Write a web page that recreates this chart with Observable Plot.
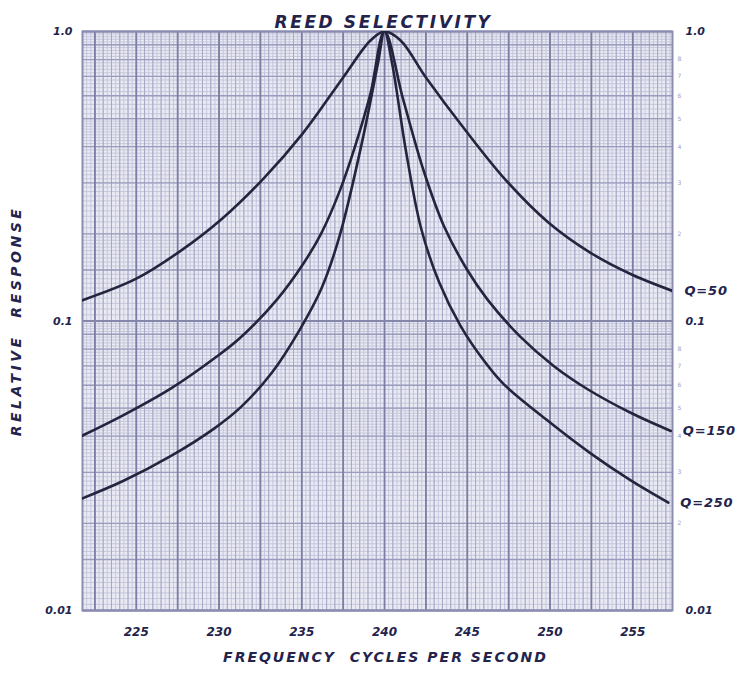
<!DOCTYPE html>
<html>
<head>
<meta charset="utf-8">
<script src="https://cdn.jsdelivr.net/npm/d3@7"></script>
<script src="https://cdn.jsdelivr.net/npm/@observablehq/plot@0.6"></script>
<style>
  html, body { margin: 0; padding: 0; background: #ffffff; }
</style>
</head>
<body>
<div id="chart"></div>
<script>
// ---- data ----
const q50Freq = [221.75, 225.0, 227.7, 230.2, 232.7, 235.05, 237.5, 239.15, 240, 240.97, 242.5, 244.9, 247.3, 249.9, 252.45, 254.9, 257.4];
const q50Resp = [0.118, 0.140, 0.175, 0.226, 0.311, 0.444, 0.694, 0.931, 1.0, 0.931, 0.694, 0.455, 0.308, 0.219, 0.172, 0.145, 0.127];

const q150Freq = [221.75, 224.2, 227.1, 229.7, 231.3, 233.5, 235.1, 236.2, 237.3, 238.2, 239.15, 240, 241.1, 242.36, 243.6, 245.0, 246.2, 248.2, 250.2, 252.3, 254.9, 257.3];
const q150Resp = [0.0402, 0.0472, 0.0585, 0.0742, 0.0877, 0.1186, 0.158, 0.202, 0.282, 0.398, 0.61, 1.0, 0.59, 0.331, 0.212, 0.150, 0.119, 0.0883, 0.0701, 0.058, 0.0481, 0.0417];

const q250Freq = [221.75, 224.2, 227.1, 229.7, 231.3, 233.2, 234.9, 236.2, 237.3, 238.7, 239.6, 240, 240.45, 241.3, 242.2, 243.3, 244.6, 246.0, 247.2, 249.85, 252.45, 254.9, 257.15];
const q250Resp = [0.0244, 0.0280, 0.0342, 0.0425, 0.0503, 0.0664, 0.0938, 0.130, 0.198, 0.43, 0.775, 1.0, 0.78, 0.385, 0.21, 0.136, 0.096, 0.073, 0.0605, 0.0453, 0.0349, 0.0281, 0.0236];

const seriesNames = ["Q=50", "Q=150", "Q=250"];
const xTickValues = [225, 230, 235, 240, 245, 250, 255];
const yTickValues = [0.01, 0.1, 1];
const yTickLabels = ["0.01", "0.1", "1.0"];
const titleText = "REED SELECTIVITY";
const xTitle = "FREQUENCY  CYCLES PER SECOND";
const yTitle = "RELATIVE  RESPONSE";

// ---- build table ----
const series = [[q50Freq, q50Resp], [q150Freq, q150Resp], [q250Freq, q250Resp]];
const data = series.flatMap(([f, r], i) => f.map((fv, j) => ({q: seriesNames[i], f: fv, r: r[j]})));
const ends = series.map(([f, r], i) => ({q: seriesNames[i], f: f[f.length - 1], r: r[r.length - 1]}));

// graph-paper grid positions
const xDomain = [221.75, 257.4];
const fineX = d3.range(222, 257.4, 0.25);
const minorX = d3.range(222.5, 257.4, 0.5);
const majorX = d3.range(222.5, 257.4, 2.5);
const fineY = [], majorY = [];
for (const dec of [0.01, 0.1]) {
  for (let m = 1; m < 2; m += 0.05) fineY.push(m * dec);
  for (let m = 2; m < 5; m += 0.1) fineY.push(m * dec);
  for (let m = 5; m < 10; m += 0.2) fineY.push(m * dec);
  for (const m of [1, 1.5, 2, 3, 4, 5, 6, 7, 8, 9]) majorY.push(m * dec);
}
const smallRight = [];
for (const dec of [0.01, 0.1]) for (const m of [2, 3, 4, 5, 6, 7, 8, 9]) smallRight.push(m * dec);

const ink = "#23234c";
const font = "DejaVu Sans";
const yLabelMap = new Map(yTickValues.map((v, i) => [v, yTickLabels[i]]));

const chart = Plot.plot({
  width: 738,
  height: 682,
  marginTop: 31,
  marginBottom: 72,
  marginLeft: 82,
  marginRight: 66,
  x: {domain: xDomain},
  y: {type: "log", domain: [0.01, 1]},
  style: {background: "#ffffff", fontFamily: font, color: ink},
  marks: [
    Plot.frame({fill: "#e9eaf3", stroke: null}),
    Plot.ruleX(fineX, {stroke: "#bfc0d7", strokeWidth: 0.8}),
    Plot.ruleY(fineY, {stroke: "#bfc0d7", strokeWidth: 0.8}),
    Plot.ruleX(minorX, {stroke: "#a6a8c6", strokeWidth: 1}),
    Plot.ruleY(majorY, {stroke: "#9a9cbd", strokeWidth: 1.3}),
    Plot.ruleX(majorX, {stroke: "#7c7ea3", strokeWidth: 1.8}),
    Plot.ruleY(yTickValues, {stroke: "#8486aa", strokeWidth: 2}),
    Plot.frame({stroke: "#8a8cb2", strokeWidth: 2}),
    Plot.line(data, {x: "f", y: "r", z: "q", curve: "catmull-rom", clip: true, stroke: "#24243e", strokeWidth: 2.6}),
    Plot.axisX(xTickValues, {tickSize: 0, tickPadding: 17, fontSize: 12, fontStyle: "italic", fontWeight: "bold", fill: ink, label: null}),
    Plot.axisY(yTickValues, {anchor: "left", tickSize: 0, tickPadding: 10, fontSize: 11, fontStyle: "italic", fontWeight: "bold", fill: ink, tickFormat: d => yLabelMap.get(d), label: null}),
    Plot.axisY(yTickValues, {anchor: "right", tickSize: 0, tickPadding: 13, fontSize: 11, fontStyle: "italic", fontWeight: "bold", fill: ink, tickFormat: d => yLabelMap.get(d), label: null}),
    Plot.axisY(smallRight, {anchor: "right", tickSize: 0, tickPadding: 5, fontSize: 6, fill: "#9a9cba", tickFormat: d => String(Math.round(d / Math.pow(10, Math.floor(Math.log10(d) + 1e-9)))), label: null}),
    Plot.text(ends, {x: "f", y: "r", text: "q", frameAnchor: "left", textAnchor: "start", dx: 12, fontSize: 13, fontStyle: "italic", fontWeight: "bold", fill: ink}),
    Plot.text([titleText], {frameAnchor: "top", dy: -16, dx: 6, fontSize: 17, fontStyle: "italic", fontWeight: "bold", fill: ink}),
    Plot.text([xTitle], {frameAnchor: "bottom", dy: 51, dx: 8, fontSize: 14, fontStyle: "italic", fontWeight: "bold", fill: ink}),
    Plot.text([yTitle], {frameAnchor: "left", textAnchor: "middle", dx: -66, rotate: -90, fontSize: 14, fontStyle: "italic", fontWeight: "bold", fill: ink})
  ]
});

d3.select(chart).selectAll("text").each(function () {
  const t = this.textContent;
  if (t === titleText) this.setAttribute("letter-spacing", "2.6");
  if (t === xTitle) this.setAttribute("letter-spacing", "2");
  if (t === yTitle) this.setAttribute("letter-spacing", "3.5");
  if (seriesNames.includes(t)) this.setAttribute("letter-spacing", "0.8");
});

document.getElementById("chart").appendChild(chart);
</script>
</body>
</html>
